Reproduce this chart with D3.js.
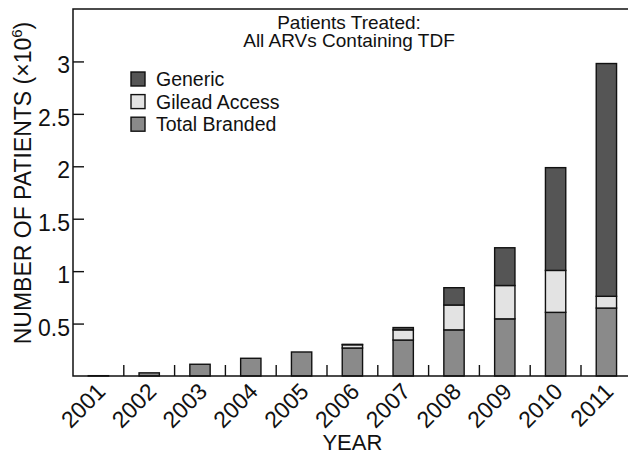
<!DOCTYPE html>
<html>
<head>
<meta charset="utf-8">
<script src="https://cdnjs.cloudflare.com/ajax/libs/d3/7.8.5/d3.min.js"></script>
<style>
	body { margin: 0; background: #fff; }
	svg { display: block; font-family: Arial, "Liberation Sans", sans-serif; }
</style>
</head>
<body>
<div id="chart"></div>
<script>
// data (millions of patients)
var years = ["2001", "2002", "2003", "2004", "2005", "2006", "2007", "2008", "2009", "2010", "2011"];
var branded = [0.003, 0.03, 0.112, 0.169, 0.229, 0.267, 0.343, 0.44, 0.545, 0.607, 0.648];
var gilead = [0, 0, 0, 0, 0, 0.031, 0.097, 0.237, 0.318, 0.40, 0.112];
var generic = [0, 0, 0, 0, 0, 0.004, 0.022, 0.165, 0.36, 0.98, 2.22];
var yTicks = [0.5, 1, 1.5, 2, 2.5, 3];

var seriesKeys = ["branded", "gilead", "generic"];
var colors = {branded: "#8a8a8a", gilead: "#e3e3e3", generic: "#555555"};
var legendItems = [
	{key: "generic", label: "Generic"},
	{key: "gilead", label: "Gilead Access"},
	{key: "branded", label: "Total Branded"}
];

function renderChart() {
	var width = 628,
		height = 454;
	// the plot box runs a little past the right edge of the picture
	var left = 73, top = 9, bottom = 376, step = 50.8;
	var right = left + step * years.length;

	var svg = d3.select("#chart")
		.append("svg")
		.attr("width", width)
		.attr("height", height);

	var x = d3.scaleBand()
		.domain(years)
		.range([left, right])
		.paddingInner(0.6)
		.paddingOuter(0.3);

	var y = d3.scaleLinear()
		.domain([0, 3.5])
		.range([bottom, top]);

	var rows = years.map(function (yr, i) {
		return {year: yr, branded: branded[i], gilead: gilead[i], generic: generic[i]};
	});
	var stacked = d3.stack().keys(seriesKeys)(rows);

	// bars
	svg.selectAll("g.layer")
		.data(stacked)
		.enter()
		.append("g")
		.attr("class", "layer")
		.attr("fill", function (d) {
			return colors[d.key];
		})
		.selectAll("rect")
		.data(function (d) {
			return d.filter(function (p) { return p[1] - p[0] > 0; });
		})
		.enter()
		.append("rect")
		.attr("x", function (d) { return x(d.data.year); })
		.attr("width", x.bandwidth())
		.attr("y", function (d) { return y(d[1]); })
		.attr("height", function (d) { return y(d[0]) - y(d[1]); })
		.attr("stroke", "#111")
		.attr("stroke-width", 1.4);

	// frame: left, top and bottom lines
	var frame = svg.append("g")
		.attr("stroke", "#111")
		.attr("stroke-width", 1.5)
		.attr("fill", "none");
	frame.append("path")
		.attr("d", "M" + right + "," + top + "H" + left + "V" + bottom + "H" + right);

	// y ticks point inward
	var yAxis = d3.axisRight(y)
		.tickValues(yTicks)
		.tickSize(11)
		.tickFormat(d3.format("~g"));
	var gy = svg.append("g")
		.attr("transform", "translate(" + left + ",0)")
		.call(yAxis);
	gy.select(".domain").remove();
	gy.selectAll(".tick line").attr("stroke", "#111").attr("stroke-width", 1.4);
	gy.selectAll(".tick text")
		.attr("x", -3)
		.attr("dy", "0.5em")
		.attr("text-anchor", "end")
		.style("font-size", "23px")
		.style("font-family", "Arial, 'Liberation Sans', sans-serif")
		.attr("fill", "#111");

	// x ticks sit between the bars
	var bounds = years.map(function (yr) {
		return x(yr) - x.step() * 0.3;
	}).slice(1);
	svg.append("g")
		.selectAll("line")
		.data(bounds)
		.enter()
		.append("line")
		.attr("x1", function (d) { return d; })
		.attr("x2", function (d) { return d; })
		.attr("y1", bottom)
		.attr("y2", bottom - 11)
		.attr("stroke", "#111")
		.attr("stroke-width", 1.4);

	// rotated year labels
	svg.append("g")
		.selectAll("text")
		.data(years)
		.enter()
		.append("text")
		.attr("transform", function (d) {
			return "translate(" + (x(d) + x.bandwidth() / 2 + 8.5) + "," + (bottom + 17) + ") rotate(-45)";
		})
		.attr("text-anchor", "end")
		.style("font-size", "23px")
		.attr("fill", "#111")
		.text(function (d) { return d; });

	// axis titles
	svg.append("text")
		.attr("x", (left + right) / 2)
		.attr("y", 450)
		.attr("text-anchor", "middle")
		.style("font-size", "22px")
		.attr("fill", "#111")
		.text("YEAR");

	var ylab = svg.append("text")
		.attr("transform", "translate(31," + 183 + ") rotate(-90)")
		.attr("text-anchor", "middle")
		.style("font-size", "23px")
		.attr("fill", "#111");
	ylab.append("tspan").text("NUMBER OF PATIENTS (×10");
	ylab.append("tspan").attr("dy", -9).style("font-size", "15px").text("6");
	ylab.append("tspan").attr("dy", 9).text(")");

	// chart title, two lines
	svg.append("g")
		.selectAll("text")
		.data(["Patients Treated:", "All ARVs Containing TDF"])
		.enter()
		.append("text")
		.attr("x", 349)
		.attr("y", function (d, i) { return 29 + i * 17.5; })
		.attr("text-anchor", "middle")
		.style("font-size", "19px")
		.attr("fill", "#111")
		.text(function (d) { return d; });

	// legend
	var legend = svg.append("g")
		.selectAll("g")
		.data(legendItems)
		.enter()
		.append("g")
		.attr("transform", function (d, i) {
			return "translate(131," + (72 + i * 22.6) + ")";
		});
	legend.append("rect")
		.attr("width", 14)
		.attr("height", 14)
		.attr("fill", function (d) { return colors[d.key]; })
		.attr("stroke", "#111")
		.attr("stroke-width", 1.4);
	legend.append("text")
		.attr("x", 25)
		.attr("y", 14)
		.style("font-size", "19.5px")
		.attr("fill", "#111")
		.text(function (d) { return d.label; });
}

renderChart();
</script>
</body>
</html>
